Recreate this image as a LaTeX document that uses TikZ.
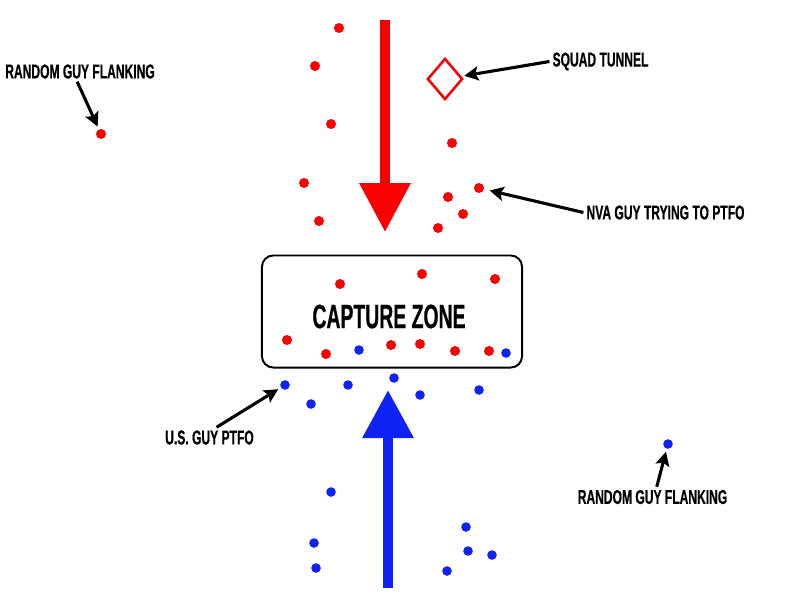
\documentclass[tikz,border=0pt]{standalone}
\usepackage{fontspec}
\newfontfamily\tagfont{Liberation Sans}[FakeStretch=0.6,FakeBold=0.4]
\newfontfamily\zonefont{Liberation Sans}[FakeStretch=0.575,FakeBold=0.5]
\usepackage{tikz}
\usetikzlibrary{arrows.meta,shapes.geometric}
\definecolor{nvared}{RGB}{250,0,0}
\definecolor{usblue}{RGB}{15,35,245}

\begin{document}
\begin{tikzpicture}[x=0.025cm, y=-0.025cm,
    tag/.style={font=\tagfont\bfseries\fontsize{14.3}{17}\selectfont, inner sep=2pt},
    tagarrow/.style={line width=2.2pt, -{Stealth[length=10pt,width=10pt,inset=2pt]}, shorten >=2pt}]
   \useasboundingbox (0,0) rectangle (800,600);
   \fill[white] (0,0) rectangle (800,600);
   % capture zone
   \node (zone) [draw, rounded corners=8pt, line width=1.4pt, minimum width=6.5cm, minimum height=2.8cm] at (392,311.5) {};
   \node (zonetext) [font=\zonefont\bfseries\fontsize{24}{28}\selectfont, inner sep=0pt] at (389,316.5) {CAPTURE ZONE};
   % big pushes
   \coordinate (redtail) at (385,20);
   \coordinate (redtip) at (385,232);
   \coordinate (bluetail) at (388,588);
   \coordinate (bluetip) at (388,390);
   \draw[nvared, line width=0.24cm, -{Triangle[width=1.22cm,length=1.22cm]}] (redtail) -- (redtip);
   \draw[usblue, line width=0.25cm, -{Triangle[width=1.22cm,length=1.2cm]}] (bluetail) -- (bluetip);
   % tunnel
   \node (tunnel) [diamond, draw=nvared, line width=1.8pt, inner sep=0pt, minimum width=0.88cm, minimum height=1.03cm] at (445,79) {};
   \begin{scope}[every node/.style={circle,fill=nvared,inner sep=0pt,minimum size=0.25cm}]
    \node (r1) at (339,28) {};
    \node (r2) at (315,66) {};
    \node (r3) at (331,124) {};
    \node (r4) at (452,143) {};
    \node (r5) at (304,183) {};
    \node (r6) at (479,188) {};
    \node (r7) at (448,197) {};
    \node (r8) at (463,214) {};
    \node (r9) at (319,221) {};
    \node (r10) at (438,228) {};
    \node (r11) at (101,134) {};
    \node (r12) at (340,284) {};
    \node (r13) at (422,274) {};
    \node (r14) at (495,279) {};
    \node (r15) at (287,340) {};
    \node (r16) at (326,354) {};
    \node (r17) at (391,345) {};
    \node (r18) at (420,344) {};
    \node (r19) at (455,351) {};
    \node (r20) at (489,351) {};
   \end{scope}
   \begin{scope}[every node/.style={circle,fill=usblue,inner sep=0pt,minimum size=0.24cm}]
    \node (b1) at (359,350) {};
    \node (b2) at (506,353) {};
    \node (b3) at (285,385) {};
    \node (b4) at (311,404) {};
    \node (b5) at (348,385) {};
    \node (b6) at (394,378) {};
    \node (b7) at (420,395) {};
    \node (b8) at (479,390) {};
    \node (b9) at (668,444) {};
    \node (b10) at (331,492) {};
    \node (b11) at (466,527) {};
    \node (b12) at (314,543) {};
    \node (b13) at (468,551) {};
    \node (b14) at (492,555) {};
    \node (b15) at (316,568) {};
    \node (b16) at (447,571) {};
   \end{scope}
   % callouts
   \node (flankred) [tag] at (80,71.5) {RANDOM GUY FLANKING};
   \node (squad) [tag] at (600.5,61.5) {SQUAD TUNNEL};
   \node (nvaguy) [tag] at (665.5,212.5) {NVA GUY TRYING TO PTFO};
   \node (usguy) [tag] at (209.5,437.5) {U.S. GUY PTFO};
   \node (flankblue) [tag] at (652.5,497) {RANDOM GUY FLANKING};
   \draw[tagarrow] ([xshift=-2pt]flankred.south) -- (r11);
   \draw[tagarrow] (squad.west) -- (tunnel);
   \draw[tagarrow, shorten >=4pt] (nvaguy.west) -- (r6);
   \draw[tagarrow] ([xshift=5pt]usguy.north) -- (b3);
   \draw[tagarrow] ([xshift=3pt]flankblue.north) -- (b9);
\end{tikzpicture}
\end{document}
